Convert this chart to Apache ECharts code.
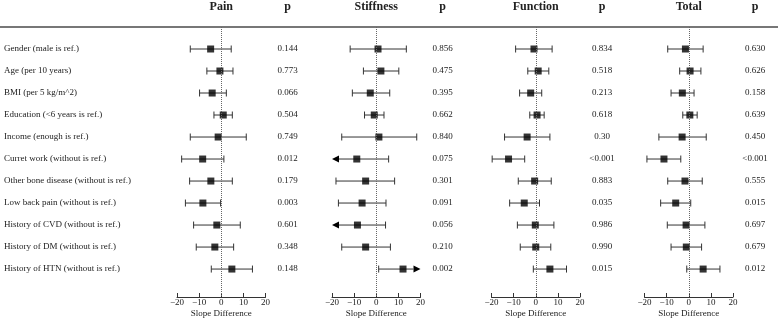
<!DOCTYPE html>
<html>
<head>
<meta charset="utf-8">
<script src="https://cdn.jsdelivr.net/npm/echarts@6/dist/echarts.min.js"></script>
<style>
  html, body { margin: 0; padding: 0; background: #fff; }
  #forest { width: 778px; height: 319px; }
</style>
</head>
<body>
<div id="forest"></div>
<script>
// forest plot: slope difference by factor, four outcome panels

const categories = [
  'Gender (male is ref.)',
  'Age (per 10 years)',
  'BMI (per 5 kg/m^2)',
  'Education (<6 years is ref.)',
  'Income (enough is ref.)',
  'Curret work (without is ref.)',
  'Other bone disease (without is ref.)',
  'Low back pain (without is ref.)',
  'History of CVD (without is ref.)',
  'History of DM (without is ref.)',
  'History of HTN (without is ref.)'
]

const panelTitles = ['Pain', 'Stiffness', 'Function', 'Total']
const tickLabels = [-20, -10, 0, 10, 20]

const painEst = [-4.8, -0.6, -4.1, 0.9, -1.4, -8.4, -4.7, -8.3, -2.0, -2.9, 4.8]
const painLow = [-14.0, -6.5, -9.8, -3.3, -14.0, -17.9, -14.3, -16.2, -12.5, -11.3, -4.5]
const painHigh = [4.5, 5.3, 2.3, 5.0, 11.3, 1.2, 5.0, -0.3, 8.6, 5.6, 14.1]
const painP = ['0.144', '0.773', '0.066', '0.504', '0.749', '0.012', '0.179', '0.003', '0.601', '0.348', '0.148']

const stiffEst = [0.8, 2.1, -2.7, -0.9, 1.2, -8.8, -4.8, -6.4, -8.5, -4.8, 12.1]
const stiffLow = [-11.8, -5.8, -10.8, -5.3, -15.6, -23.0, -18.2, -17.1, -22.0, -15.6, 1.1]
const stiffHigh = [13.6, 10.2, 6.1, 3.5, 18.3, 5.6, 8.3, 4.4, 4.2, 6.4, 23.0]
const stiffP = ['0.856', '0.475', '0.395', '0.662', '0.840', '0.075', '0.301', '0.091', '0.056', '0.210', '0.002']

const funcEst = [-0.8, 1.1, -2.3, 0.6, -3.9, -12.3, -0.5, -5.2, -0.2, 0.0, 6.4]
const funcLow = [-9.1, -3.6, -7.3, -2.7, -14.1, -19.7, -7.9, -11.8, -8.3, -7.0, -1.1]
const funcHigh = [7.4, 5.9, 2.7, 3.8, 6.4, -5.0, 7.0, 1.7, 8.2, 6.8, 13.9]
const funcP = ['0.834', '0.518', '0.213', '0.618', '0.30', '<0.001', '0.883', '0.035', '0.986', '0.990', '0.015']

const totalEst = [-1.5, 0.6, -2.9, 0.5, -3.0, -11.2, -1.7, -5.9, -1.2, -1.1, 6.5]
const totalLow = [-9.5, -4.1, -8.0, -2.7, -13.5, -18.9, -9.5, -12.7, -9.7, -8.0, -0.9]
const totalHigh = [6.5, 5.5, 2.4, 3.8, 7.9, -3.6, 6.1, 0.9, 7.3, 5.8, 14.1]
const totalP = ['0.630', '0.626', '0.158', '0.639', '0.450', '<0.001', '0.555', '0.015', '0.697', '0.679', '0.012']

const panels = [
  { est: painEst, low: painLow, high: painHigh, p: painP },
  { est: stiffEst, low: stiffLow, high: stiffHigh, p: stiffP },
  { est: funcEst, low: funcLow, high: funcHigh, p: funcP },
  { est: totalEst, low: totalLow, high: totalHigh, p: totalP }
]

// layout
const gridLefts = [177, 332, 491.5, 644.5]
const gridWidth = 88.5
const pGap = 22
const FONT = '"Liberation Serif", "Times New Roman", serif'
const TXT = '#222'
const AX_MIN = tickLabels[0]
const AX_MAX = tickLabels[tickLabels.length - 1]
const ROW_MAX = 12.27

// error bar with caps, arrow when the interval runs off the axis
function renderBar (params, api) {
  const row = api.value(0)
  const lo = api.value(1)
  const hi = api.value(2)
  const a = api.coord([Math.max(lo, AX_MIN), row])
  const b = api.coord([Math.min(hi, AX_MAX), row])
  const y = a[1]
  const cap = 3.5
  const aw = 7
  const style = { stroke: '#333', lineWidth: 1, fill: null }
  const kids = []
  let x1 = a[0]
  let x2 = b[0]
  if (lo < AX_MIN) {
    kids.push({ type: 'polygon', shape: { points: [[x1, y], [x1 + aw, y - cap], [x1 + aw, y + cap]] }, style: { fill: '#000' } })
    x1 += aw
  } else {
    kids.push({ type: 'line', shape: { x1: x1, y1: y - cap, x2: x1, y2: y + cap }, style: style })
  }
  if (hi > AX_MAX) {
    kids.push({ type: 'polygon', shape: { points: [[x2, y], [x2 - aw, y - cap], [x2 - aw, y + cap]] }, style: { fill: '#000' } })
    x2 -= aw
  } else {
    kids.push({ type: 'line', shape: { x1: x2, y1: y - cap, x2: x2, y2: y + cap }, style: style })
  }
  kids.push({ type: 'line', shape: { x1: x1, y1: y, x2: x2, y2: y }, style: style })
  return { type: 'group', children: kids }
}

const grids = []
const xAxes = []
const yAxes = []
const series = []
const titles = []

panels.forEach(function (pn, i) {
  grids.push({ left: gridLefts[i], width: gridWidth, top: 27, height: 270, outerBoundsMode: 'none', containLabel: false })

  xAxes.push({
    gridIndex: i,
    type: 'value',
    min: AX_MIN,
    max: AX_MAX,
    interval: 10,
    splitLine: { show: false },
    axisLine: { onZero: false, lineStyle: { color: '#333', width: 1 } },
    axisTick: { inside: true, length: 4, lineStyle: { color: '#333' } },
    axisLabel: {
      margin: 1,
      fontSize: 9,
      fontFamily: FONT,
      color: TXT,
      formatter: function (v) { return String(v).replace('-', '\u2212') }
    },
    name: 'Slope Difference',
    nameLocation: 'middle',
    nameGap: 12,
    nameMoveOverlap: false,
    nameTextStyle: { fontSize: 9, fontFamily: FONT, color: TXT }
  })

  // left axis: factor names (first panel only)
  yAxes.push({
    gridIndex: i,
    type: 'value',
    min: 0,
    max: ROW_MAX,
    interval: 1,
    inverse: true,
    show: i === 0,
    axisLine: { show: false },
    axisTick: { show: false },
    splitLine: { show: false },
    axisLabel: {
      showMaxLabel: false,
      align: 'left',
      margin: gridLefts[0] - 4,
      fontSize: 9,
      fontFamily: FONT,
      color: TXT,
      formatter: function (v) { return categories[Math.round(v) - 1] || '' }
    }
  })

  // right axis: p values
  yAxes.push({
    gridIndex: i,
    type: 'value',
    position: 'right',
    min: 0,
    max: ROW_MAX,
    interval: 1,
    inverse: true,
    axisLine: { show: false },
    axisTick: { show: false },
    splitLine: { show: false },
    axisLabel: {
      showMaxLabel: false,
      align: 'center',
      margin: pGap,
      fontSize: 9,
      fontFamily: FONT,
      color: TXT,
      formatter: function (v) { return pn.p[Math.round(v) - 1] || '' }
    }
  })

  series.push({
    type: 'custom',
    xAxisIndex: i,
    yAxisIndex: i * 2,
    renderItem: renderBar,
    encode: { x: [1, 2], y: 0 },
    data: pn.low.map(function (lo, k) { return [k + 1, lo, pn.high[k]] }),
    silent: true,
    z: 2
  })

  series.push({
    type: 'scatter',
    xAxisIndex: i,
    yAxisIndex: i * 2,
    symbol: 'rect',
    symbolSize: 7,
    itemStyle: { color: '#000' },
    data: pn.est.map(function (v, k) { return [v, k + 1] }),
    silent: true,
    z: 3,
    markLine: {
      silent: true,
      symbol: ['none', 'none'],
      label: { show: false },
      lineStyle: { type: 'dotted', color: '#666', width: 1 },
      data: [{ xAxis: 0 }]
    }
  })

  const cx = gridLefts[i] + gridWidth / 2
  const px = gridLefts[i] + gridWidth + pGap
  titles.push({ text: panelTitles[i], left: cx, top: 1, padding: 0, textAlign: 'center',
    textStyle: { fontSize: 12, fontWeight: 'bold', fontFamily: FONT, color: '#222' } })
  titles.push({ text: 'p', left: px, top: 1, padding: 0, textAlign: 'center',
    textStyle: { fontSize: 12, fontWeight: 'bold', fontFamily: FONT, color: '#222' } })
})

const forestChart = echarts.init(document.getElementById('forest'), null, { renderer: 'canvas' })

forestChart.setOption({
  animation: false,
  title: titles,
  grid: grids,
  xAxis: xAxes,
  yAxis: yAxes,
  series: series,
  graphic: [
    {
      type: 'line',
      shape: { x1: 0, y1: 27, x2: 778, y2: 27 },
      style: { stroke: '#777', lineWidth: 2 },
      silent: true
    }
  ]
})
</script>
</body>
</html>
